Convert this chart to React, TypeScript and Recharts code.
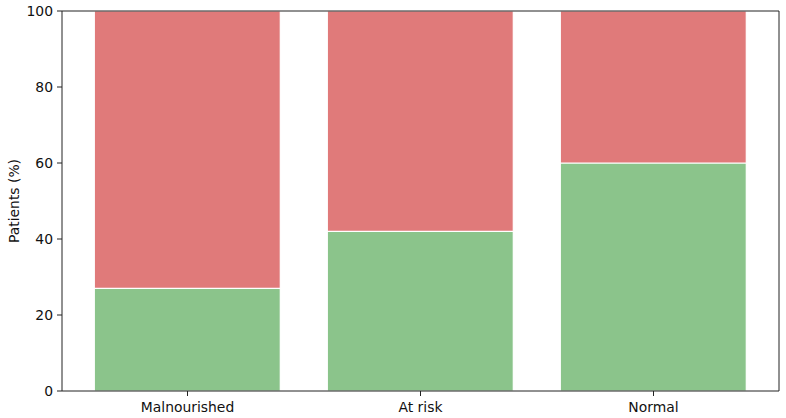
import React from "react";
import { BarChart, Bar, XAxis, YAxis } from "recharts";

const categories = ["Malnourished", "At risk", "Normal"];
const greenValues = [27, 42, 60];
const redValues = [73, 58, 40];
const yTicks = [0, 20, 40, 60, 80, 100];

const data = categories.map((name, i) => ({ name, green: greenValues[i], red: redValues[i] }));

const font = "DejaVu Sans";
const tickStyle = { fontSize: 13.9, fill: "#111", fontFamily: font };

export default function App() {
  return (
    <div style={{ position: "absolute", left: 0, top: 0, width: 786, height: 418, background: "#fff" }}>
      <BarChart
        width={786}
        height={418}
        data={data}
        margin={{ top: 10, right: 6, bottom: 0, left: 0 }}
        barCategoryGap="10%"
      >
        <XAxis
          dataKey="name"
          height={27}
          padding={{ left: 9, right: 9 }}
          tick={tickStyle}
          fontSize={13.9}
          fontFamily={font}
          tickSize={5}
          tickMargin={6}
          stroke="#222"
          axisLine={{ stroke: "#222" }}
          tickLine={{ stroke: "#222" }}
        />
        <XAxis
          xAxisId="top"
          dataKey="name"
          orientation="top"
          height={1}
          tick={false}
          tickLine={false}
          stroke="#222"
          axisLine={{ stroke: "#222" }}
        />
        <YAxis
          width={62}
          domain={[0, 100]}
          ticks={yTicks}
          tick={tickStyle}
          fontSize={13.9}
          fontFamily={font}
          tickSize={5}
          tickMargin={4}
          stroke="#222"
          axisLine={{ stroke: "#222" }}
          tickLine={{ stroke: "#222" }}
          label={{
            value: "Patients (%)",
            angle: -90,
            position: "insideLeft",
            offset: 0,
            dx: 14,
            style: { fontSize: 13.9, fill: "#111", fontFamily: font, textAnchor: "middle" },
          }}
        />
        <YAxis
          yAxisId="right"
          orientation="right"
          width={1}
          domain={[0, 100]}
          tick={false}
          tickLine={false}
          stroke="#222"
          axisLine={{ stroke: "#222" }}
        />
        <Bar dataKey="green" stackId="a" fill="#8BC48B" stroke="#ffffff" strokeWidth={1.2} isAnimationActive={false} />
        <Bar dataKey="red" stackId="a" fill="#E07A7A" stroke="#ffffff" strokeWidth={1.2} isAnimationActive={false} />
      </BarChart>
    </div>
  );
}
